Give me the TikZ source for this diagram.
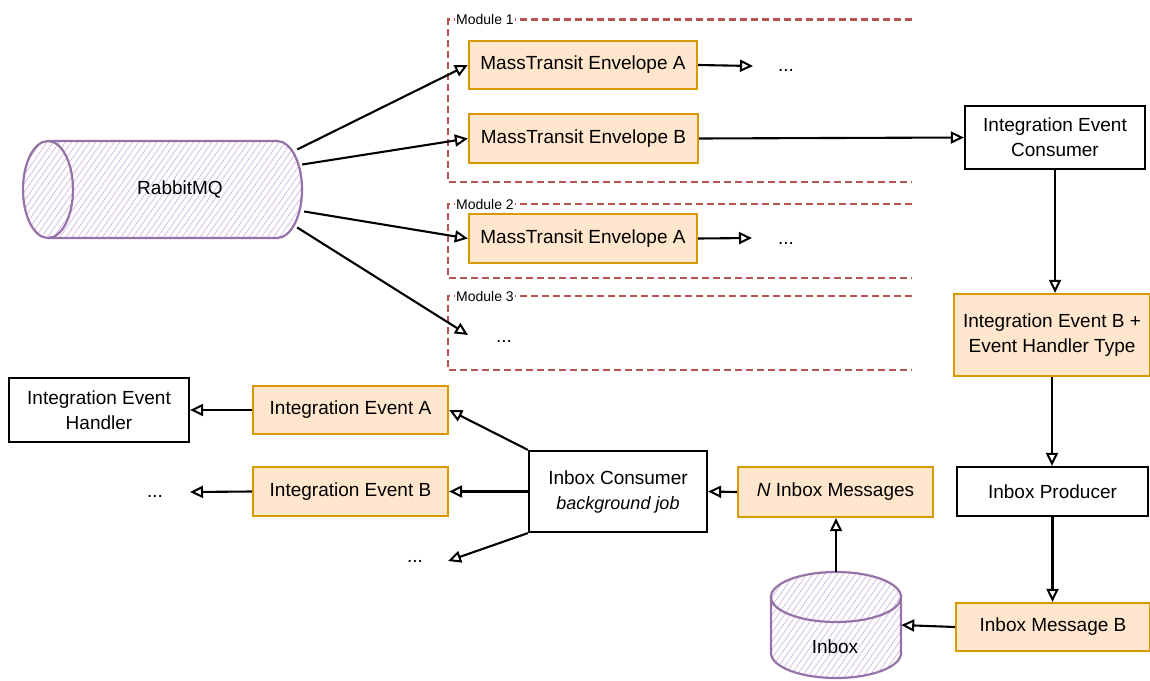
\documentclass[tikz,border=0pt]{standalone}
\usepackage{fontspec}
\setmainfont{Liberation Sans}
\usetikzlibrary{arrows.meta,patterns.meta}
\definecolor{orF}{HTML}{FFE6CC}
\definecolor{orD}{HTML}{D79B00}
\definecolor{puD}{HTML}{9673A6}
\definecolor{puL}{HTML}{D2C0E0}
\definecolor{reD}{HTML}{B85450}
\begin{document}
\begin{tikzpicture}[x=1pt,y=-1pt,
 txt/.style={font=\fontsize{19}{25}\selectfont, align=center},
 obox/.style={txt, draw=orD, fill=orF, line width=2.2pt, inner sep=0pt},
 bbox/.style={txt, draw=black, fill=white, line width=2.2pt, inner sep=0pt},
 conn/.style={draw=black, line width=2.1pt, -{Triangle[open,length=13pt,width=12pt,line width=2pt]}},
 frame/.style={draw=reD, line width=2.2pt, dash pattern=on 7pt off 4pt},
 modlabel/.style={font=\fontsize{14}{16}\selectfont, fill=white, inner sep=1pt, anchor=west},
 dots/.style={font=\fontsize{19}{25}\selectfont, inner sep=0pt},
 cyl/.style={draw=puD, line width=2.2pt},
 hatch/.style={pattern={Lines[angle=55,distance=5pt,line width=0.8pt]}, pattern color=puL}
]
\useasboundingbox[fill=white] (0,0) rectangle (1150,680);

% module frames
\draw[frame] (912,19.5) -- (448,19.5) -- (448,182) -- (912,182);
\node[modlabel] (m1) at (455,19.5) {Module 1};
\draw[frame] (912,204) -- (448,204) -- (448,278) -- (912,278);
\node[modlabel] (m2) at (455,204) {Module 2};
\draw[frame] (912,296) -- (448,296) -- (448,370) -- (912,370);
\node[modlabel] (m3) at (455,296) {Module 3};

% RabbitMQ cylinder
\path[hatch] (48,141) -- (277,141) arc[start angle=-90,end angle=90,x radius=25,y radius=48.5] -- (48,238) arc[start angle=90,end angle=270,x radius=25,y radius=48.5] -- cycle;
\draw[cyl] (48,141) -- (277,141) arc[start angle=-90,end angle=90,x radius=25,y radius=48.5] -- (48,238) arc[start angle=90,end angle=270,x radius=25,y radius=48.5] -- cycle;
\draw[cyl] (48,141) arc[start angle=-90,end angle=90,x radius=25,y radius=48.5];
\node[txt, minimum width=244, minimum height=97, inner sep=0pt] (rmq) at (180,189.5) {RabbitMQ};

% Inbox cylinder
\path[hatch] (771,597) -- (771,653) arc[start angle=180,end angle=0,x radius=65,y radius=25] -- (901,597) arc[start angle=0,end angle=-180,x radius=65,y radius=25] -- cycle;
\draw[cyl] (771,597) -- (771,653) arc[start angle=180,end angle=0,x radius=65,y radius=25] -- (901,597) arc[start angle=0,end angle=-180,x radius=65,y radius=25] -- cycle;
\draw[cyl] (771,597) arc[start angle=180,end angle=0,x radius=65,y radius=25];
\node[minimum width=130, minimum height=106, inner sep=0pt] (inbox) at (836,625) {};
\node[txt] (inboxtxt) at (835,647) {Inbox};

% envelopes
\node[obox, minimum width=228, minimum height=48] (ea1) at (583,65) {MassTransit Envelope A};
\node[obox, minimum width=229, minimum height=49] (eb1) at (583.5,138.5) {MassTransit Envelope B};
\node[obox, minimum width=228, minimum height=49] (ea2) at (583,238.5) {MassTransit Envelope A};
\node[dots] (d1) at (786,70) {...};
\node[dots] (d2) at (786,243) {...};
\node[dots] (d3) at (504,341) {...};
\coordinate (d1in) at (753,66);
\coordinate (d2in) at (752,238);
\coordinate (m3in) at (468,335);

% right column
\node[bbox, minimum width=180, minimum height=63] (iec) at (1055,137.5) {Integration Event\\Consumer};
\node[obox, minimum width=196, minimum height=82] (ieb) at (1052,335) {Integration Event B +\\Event Handler Type};
\node[bbox, minimum width=191, minimum height=49] (ip) at (1052.5,491.5) {Inbox Producer};
\node[obox, minimum width=194, minimum height=48] (imb) at (1053,627) {Inbox Message B};

% bottom
\node[obox, minimum width=195, minimum height=50] (nim) at (835.5,492) {\textit{N} Inbox Messages};
\node[bbox, minimum width=178, minimum height=81] (ic) at (618,491.5) {Inbox Consumer\\{\fontsize{18}{22}\selectfont\itshape background job}};
\node[obox, minimum width=195, minimum height=48] (iea) at (350.5,410) {Integration Event A};
\node[obox, minimum width=195, minimum height=49] (ieb2) at (350.5,491.5) {Integration Event B};
\node[bbox, minimum width=180, minimum height=64] (ieh) at (99,410) {Integration Event\\Handler};
\node[dots] (d4) at (155,496) {...};
\node[dots] (d5) at (415,561) {...};
\coordinate (d4in) at (190,492);
\coordinate (d5in) at (448,561);

% connectors
\draw[conn] ([shift={(-5,-40)}]rmq.east) -- (ea1.west);
\draw[conn] ([shift={(0,-25)}]rmq.east) -- (eb1.west);
\draw[conn] ([shift={(2,22)}]rmq.east) -- (ea2.west);
\draw[conn] ([shift={(-5,38)}]rmq.east) -- (m3in);
\draw[conn] (ea1.east) -- (d1in);
\draw[conn] (ea2.east) -- (d2in);
\draw[conn] (eb1.east) -- (iec.west);
\draw[conn] (iec.south) -- (iec.south |- ieb.north);
\draw[conn] (ieb.south) -- (ieb.south |- ip.north);
\draw[conn] (ip.south) -- (ip.south |- imb.north);
\draw[conn] (imb.west) -- (inbox.east);
\draw[conn] (inbox.north) -- (inbox.north |- nim.south);
\draw[conn] (nim.west) -- (ic.east);
\draw[conn] (ic.north west) -- (iea.east);
\draw[conn] (ic.west) -- (ieb2.east);
\draw[conn] (ic.south west) -- (d5in);
\draw[conn] (iea.west) -- (ieh.east);
\draw[conn] (ieb2.west) -- (d4in);
\end{tikzpicture}
\end{document}
